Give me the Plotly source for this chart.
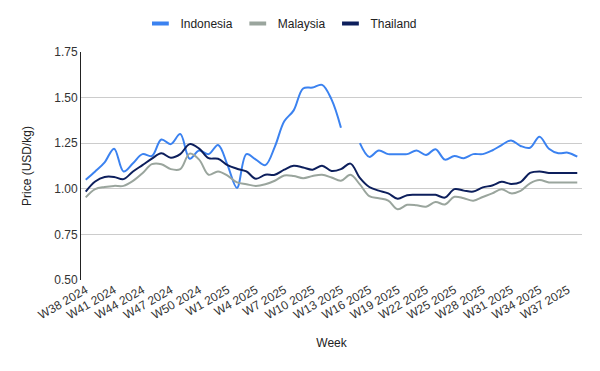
import plotly.graph_objects as go

weeks = [f"W{w} 2024" for w in range(38, 53)] + [f"W{w} 2025" for w in range(1, 39)]

indonesia = [1.05, 1.095, 1.145, 1.22, 1.095, 1.14, 1.19, 1.18, 1.27, 1.245,
             1.30, 1.165, 1.21, 1.19, 1.24, 1.13, 1.005, 1.19, 1.16, 1.13,
             1.23, 1.37, 1.43, 1.55, 1.555, 1.57, 1.49, 1.335, None, 1.25,
             1.175, 1.21, 1.19, 1.19, 1.19, 1.21, 1.185, 1.217, 1.16, 1.18,
             1.168, 1.19, 1.19, 1.21, 1.24, 1.265, 1.235, 1.225, 1.285, 1.22,
             1.195, 1.198, 1.176]
malaysia = [0.953, 0.998, 1.01, 1.016, 1.016, 1.043, 1.085, 1.135, 1.135, 1.108,
            1.108, 1.193, 1.16, 1.077, 1.095, 1.072, 1.035, 1.025, 1.016, 1.025,
            1.044, 1.073, 1.07, 1.058, 1.07, 1.077, 1.062, 1.044, 1.077, 1.024,
            0.96, 0.948, 0.935, 0.888, 0.912, 0.91, 0.902, 0.928, 0.914, 0.956,
            0.948, 0.935, 0.955, 0.975, 0.998, 0.975, 0.989, 1.03, 1.048, 1.035,
            1.035, 1.035, 1.035]
thailand = [0.985, 1.04, 1.065, 1.065, 1.053, 1.095, 1.13, 1.165, 1.195, 1.17,
            1.19, 1.245, 1.22, 1.168, 1.165, 1.13, 1.11, 1.095, 1.055, 1.077,
            1.077, 1.105, 1.126, 1.117, 1.105, 1.127, 1.098, 1.108, 1.138, 1.06,
            1.01, 0.99, 0.975, 0.945, 0.965, 0.967, 0.967, 0.967, 0.952, 0.998,
            0.99, 0.985, 1.008, 1.018, 1.038, 1.027, 1.037, 1.087, 1.095, 1.087,
            1.086, 1.086, 1.086]

tick_labels = weeks[0:52:3]
y_ticks = [0.50, 0.75, 1.00, 1.25, 1.50, 1.75]

series = [("Indonesia", indonesia, "#3b82f0"),
          ("Malaysia", malaysia, "#9aa59d"),
          ("Thailand", thailand, "#0d1f5c")]

fig = go.Figure()
for name, vals, col in series:
    fig.add_trace(go.Scatter(x=weeks, y=vals, mode="lines", name=name,
                             line=dict(color=col, width=2, shape="spline", smoothing=1.0),
                             connectgaps=False, showlegend=False))
for name, vals, col in series:
    fig.add_trace(go.Scatter(x=[weeks[0]], y=[None], mode="markers", name=name,
                             marker=dict(symbol="line-ew", size=12, color=col,
                                         line=dict(color=col, width=4)),
                             showlegend=True))

font = "Liberation Sans, Arial, sans-serif"
fig.update_layout(
    width=600, height=371,
    margin=dict(l=81, r=18, t=52, b=91, autoexpand=False),
    paper_bgcolor="white", plot_bgcolor="white",
    font=dict(family=font, size=12, color="#222222"),
    legend=dict(orientation="h", x=0.40, xanchor="center", y=1.125, yanchor="middle",
                font=dict(size=12, color="#222222"), itemwidth=30,
                bgcolor="rgba(0,0,0,0)"),
    xaxis=dict(type="category", categoryorder="array", categoryarray=weeks,
               tickmode="array", tickvals=tick_labels, ticktext=tick_labels,
               tickangle=-30, showgrid=False, showline=False, ticks="",
               automargin=False,
               tickfont=dict(size=12, color="#333333"),
               range=[-0.5, len(weeks) - 0.5],
               title=dict(text="Week", font=dict(size=12, color="#222222"), standoff=17)),
    yaxis=dict(range=[0.5, 1.75], tickvals=y_ticks, tickformat=".2f",
               showgrid=True, gridcolor="#cccccc", gridwidth=1,
               showline=True, linecolor="#222222", linewidth=1, zeroline=False,
               ticks="", ticklen=0, automargin=False,
               tickfont=dict(size=12, color="#333333"),
               title=dict(text="Price (USD/kg)", font=dict(size=12, color="#222222"), standoff=20)),
)

fig.write_html("out.html",
               config={"displayModeBar": False},
               post_script="document.body.style.margin='0';document.body.style.overflow='hidden';")
